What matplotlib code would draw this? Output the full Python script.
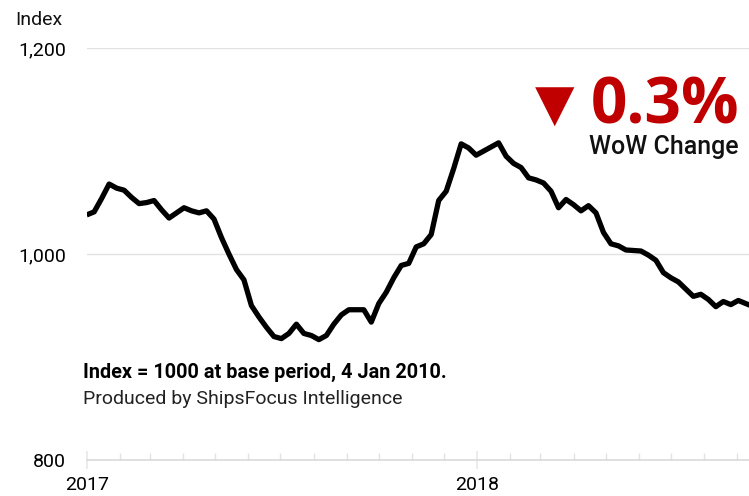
import matplotlib
matplotlib.use("Agg")
import matplotlib.pyplot as plt
import matplotlib.dates as mdates
import pandas as pd

# weekly index values
start_date = "2017-01-01"
index_values = [
    1038, 1041, 1054, 1068, 1064, 1062, 1055, 1049, 1050, 1052,
    1043, 1035, 1040, 1045, 1042, 1040, 1042, 1034, 1016, 1000,
    985, 975, 950, 939, 929, 920, 918, 923, 932, 923,
    921, 917, 921, 932, 941, 946, 946, 946, 934, 952,
    963, 977, 989, 991, 1007, 1010, 1019, 1052, 1061, 1083,
    1107, 1103, 1096, 1100, 1104, 1108, 1095, 1088, 1084, 1074,
    1072, 1069, 1061, 1045, 1053, 1048, 1042, 1047, 1040, 1021,
    1010, 1008, 1004, 1003.5, 1003, 999, 994, 982, 977, 973,
    966, 959, 961, 956, 949, 954, 951, 955, 952, 949,
]
y_ticks = [800, 1000, 1200]
y_tick_labels = ["800", "1,000", "1,200"]
wow_change = "0.3%"

dates = pd.date_range(start_date, periods=len(index_values), freq="7D")

tick_font = ["Roboto", "DejaVu Sans"]
text_font = ["Roboto", "DejaVu Sans"]
red = "#c00000"
grey = "#e2e2e2"

fig = plt.figure(figsize=(7.49, 4.96), dpi=100)
ax = fig.add_axes([0.1157, 0.0722, 0.8843, 0.8310])

ax.plot(dates, index_values, color="black", lw=3.8,
        solid_joinstyle="round", solid_capstyle="butt")

ax.set_ylim(800, 1200)
ax.set_xlim(pd.Timestamp("2017-01-01"), pd.Timestamp("2018-09-12"))
ax.set_yticks(y_ticks)
ax.set_yticklabels(y_tick_labels, fontfamily=tick_font, fontsize=14)
ax.grid(axis="y", color=grey, lw=1)
ax.set_axisbelow(True)

ax.xaxis.set_major_locator(mdates.YearLocator())
ax.xaxis.set_major_formatter(mdates.DateFormatter("%Y"))
ax.xaxis.set_minor_locator(mdates.MonthLocator())
for lab in ax.get_xticklabels():
    lab.set_fontfamily(tick_font)
ax.tick_params(axis="x", which="major", direction="inout", length=13,
               width=1.5, color="#ececec", pad=5, labelsize=14)
ax.tick_params(axis="x", which="minor", direction="in", length=5,
               width=1, color=grey)
ax.tick_params(axis="y", length=0, pad=15)

for side in ["top", "right", "left"]:
    ax.spines[side].set_visible(False)
ax.spines["bottom"].set_color("#dadada")
ax.spines["bottom"].set_linewidth(1.2)

W, H = 749, 496
fig.text(15 / W, 1 - 20 / H, "Index", fontfamily=text_font, fontsize=14,
         ha="left", va="center", color="#111111")

fig.text(555 / W, 1 - 121 / H, "\u25bc", fontfamily="DejaVu Sans", fontsize=37,
         color=red, ha="center", va="baseline")
fig.text(739 / W, 1 - 123 / H, wow_change, fontfamily=["Open Sans", "Roboto"],
         fontweight="bold", fontsize=46, color=red, ha="right", va="baseline")
fig.text(739 / W, 1 - 154 / H, "WoW Change", fontfamily=text_font,
         fontweight="medium", fontsize=18, color="#111111", ha="right",
         va="baseline")

fig.text(83 / W, 1 - 378 / H, "Index = 1000 at base period, 4 Jan 2010.",
         fontfamily=text_font, fontweight="bold", fontsize=14.3,
         color="black", ha="left", va="baseline")
fig.text(83 / W, 1 - 404 / H, "Produced by ShipsFocus Intelligence",
         fontfamily=text_font, fontsize=14, color="#222222", ha="left",
         va="baseline")

fig.savefig("out.png", dpi=100)
